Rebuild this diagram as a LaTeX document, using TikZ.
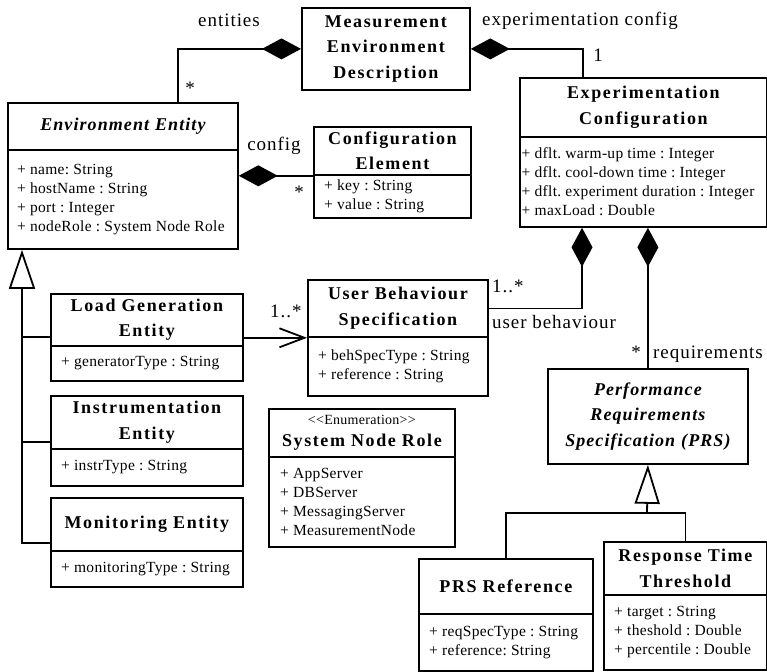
\documentclass[tikz,border=0pt]{standalone}
\usepackage{fontspec}
\setmainfont{Liberation Serif}
\newfontfamily\headfont[LetterSpace=9]{Liberation Serif}
\newfontfamily\headitfont[LetterSpace=6]{Liberation Serif}
\newfontfamily\attrfont[LetterSpace=2]{Liberation Serif}
\newfontfamily\labelfont[LetterSpace=5]{Liberation Serif}
\usetikzlibrary{arrows.meta}

\tikzset{
  umlline/.style={line width=1.8pt},
  classhead/.style={draw, line width=1.8pt, anchor=north west, inner xsep=0pt,
    inner ysep=0pt, align=center,
    font=\headfont\fontsize{18}{25.5}\selectfont\bfseries},
  classbody/.style={draw, line width=1.8pt, anchor=north west, inner sep=0pt},
  attrtext/.style={anchor=west, inner sep=0pt, align=left,
    font=\attrfont\fontsize{15.5}{19}\selectfont},
  rolelabel/.style={inner sep=0pt, font=\labelfont\fontsize{19}{22}\selectfont},
  compose/.style={umlline, -{Diamond[length=39pt,width=21pt]}},
  navigate/.style={umlline, -{Straight Barb[length=25pt,width=19pt]}},
  inherit/.style={umlline, -{Triangle[open,length=39pt,width=26pt]}}
}

% class box: name, left, top, right, separator, bottom, text padding, title, attributes
\newcommand\umlclass[9]{%
  \pgfmathsetmacro\ucW{#4-#2}%
  \pgfmathsetmacro\ucHH{#5-#3}%
  \pgfmathsetmacro\ucBH{#6-#5}%
  \node[classhead, text width=\ucW pt, minimum height=\ucHH pt] (#1-h) at (#2,#3) {#8};
  \node[classbody, minimum width=\ucW pt, minimum height=\ucBH pt] (#1-b) at (#2,#5) {};
  \node[attrtext] (#1-t) at ([xshift=#7pt]#1-b.west) {#9};
}
\newcommand\italichead{\headitfont\fontsize{18}{25.5}\selectfont\bfseries\itshape}

\begin{document}
\frenchspacing
\begin{tikzpicture}[x=1pt, y=-1pt]
\useasboundingbox (0,0) rectangle (767,671);

% ---- classes ----
\node[classhead, text width=168pt, minimum height=82pt] (med) at (301,7)
  {Measurement\\Environment\\Description};

\umlclass{ee}{7}{102}{237}{149}{248}{10}
  {\italichead Environment Entity}
  {+ name: String\\+ hostName : String\\+ port : Integer\\+ nodeRole : System Node Role}

\umlclass{ce}{313}{126}{470}{174}{217}{11}
  {Configuration\\Element}
  {+ key : String\\+ value : String}

\umlclass{ec}{519}{77}{766}{136}{226}{2.5}
  {Experimentation\\Configuration}
  {+ dflt. warm-up time : Integer\\+ dflt. cool-down time : Integer\\+ dflt. experiment duration : Integer\\+ maxLoad : Double}

\umlclass{ubs}{307}{279}{487}{336}{395}{11}
  {User Behaviour\\Specification}
  {+ behSpecType : String\\+ reference : String}

\umlclass{lge}{50}{293}{242}{345}{380}{11}
  {Load Generation\\Entity}
  {+ generatorType : String}

\umlclass{ie}{50}{395}{242}{448}{485}{11}
  {Instrumentation\\Entity}
  {+ instrType : String}

\umlclass{me}{50}{497}{242}{550}{586}{11}
  {Monitoring Entity}
  {+ monitoringType : String}

\umlclass{snr}{268}{408}{454}{456}{546}{12}
  {{\attrfont\fontsize{14}{17}\selectfont\mdseries <<Enumeration>>}\\[-3pt]System Node Role}
  {+ AppServer\\+ DBServer\\+ MessagingServer\\+ MeasurementNode}

\node[classhead, text width=200pt, minimum height=95pt, font=\italichead] (prs) at (547,368)
  {Performance\\Requirements\\Specification (PRS)};

\umlclass{prsref}{418}{558}{592}{613}{670}{11}
  {PRS Reference}
  {+ reqSpecType : String\\+ reference: String}

\umlclass{rtt}{603}{541}{766}{594}{669}{11}
  {Response Time\\Threshold}
  {+ target : String\\+ theshold : Double\\+ percentile : Double}

% ---- bend points ----
\coordinate (entbend) at (178,48);
\coordinate (expbend) at (583,48);
\coordinate (ubsbend) at (582,307);
\coordinate (g1) at (22,337);
\coordinate (g2) at (22,442);
\coordinate (g3) at (22,543);
\coordinate (gj) at (647,513);

% ---- compositions ----
\draw[compose] (ee-h.north -| entbend) |- (med.west);
\draw[compose] (ec-h.north -| expbend) |- (med.east);
\draw[compose] (ce-h.south west) -- (ce-h.south west -| ee-b.east);
\draw[compose] (ubs-h.east) -| (ec-b.south -| ubsbend);
\draw[compose] (prs.north) -- (prs.north |- ec-b.south);

% ---- navigable association ----
\draw[navigate] (ubs-h.south west -| lge-h.east) -- (ubs-h.south west);

% ---- generalizations ----
\draw[inherit] (g3 -| me-h.west) -- (g3) -- (ee-b.south -| g3);
\draw[umlline] (g1) -- (g1 -| lge-h.west);
\draw[umlline] (g2) -- (g2 -| ie-h.west);
\draw[inherit, -{Triangle[open,length=39pt,width=25pt]}] (gj) -- (prs.south);
\draw[umlline] (prsref-h.north) |- (gj) -| (rtt-h.north);

% ---- role names and multiplicities ----
\node[rolelabel, anchor=base] (l-ent) at (229,27) {entities};
\node[rolelabel, anchor=north] (m-ent) at (190,82) {*};
\node[rolelabel, anchor=base west] (l-exp) at (482,26) {experimentation config};
\node[rolelabel, anchor=base] (m-exp) at (598,62) {1};
\node[rolelabel, anchor=base] (l-cfg) at (274,150) {config};
\node[rolelabel, anchor=north] (m-cfg) at (299,186) {*};
\node[rolelabel, anchor=base west] (m-nav) at (270,317) {1..*};
\node[rolelabel, anchor=base west] (m-ubs) at (492,292) {1..*};
\node[rolelabel, anchor=base west] (l-ubs) at (492,328) {user behaviour};
\node[rolelabel, anchor=north] (m-req) at (636,346) {*};
\node[rolelabel, anchor=base west] (l-req) at (653,358) {requirements};
\end{tikzpicture}
\end{document}
